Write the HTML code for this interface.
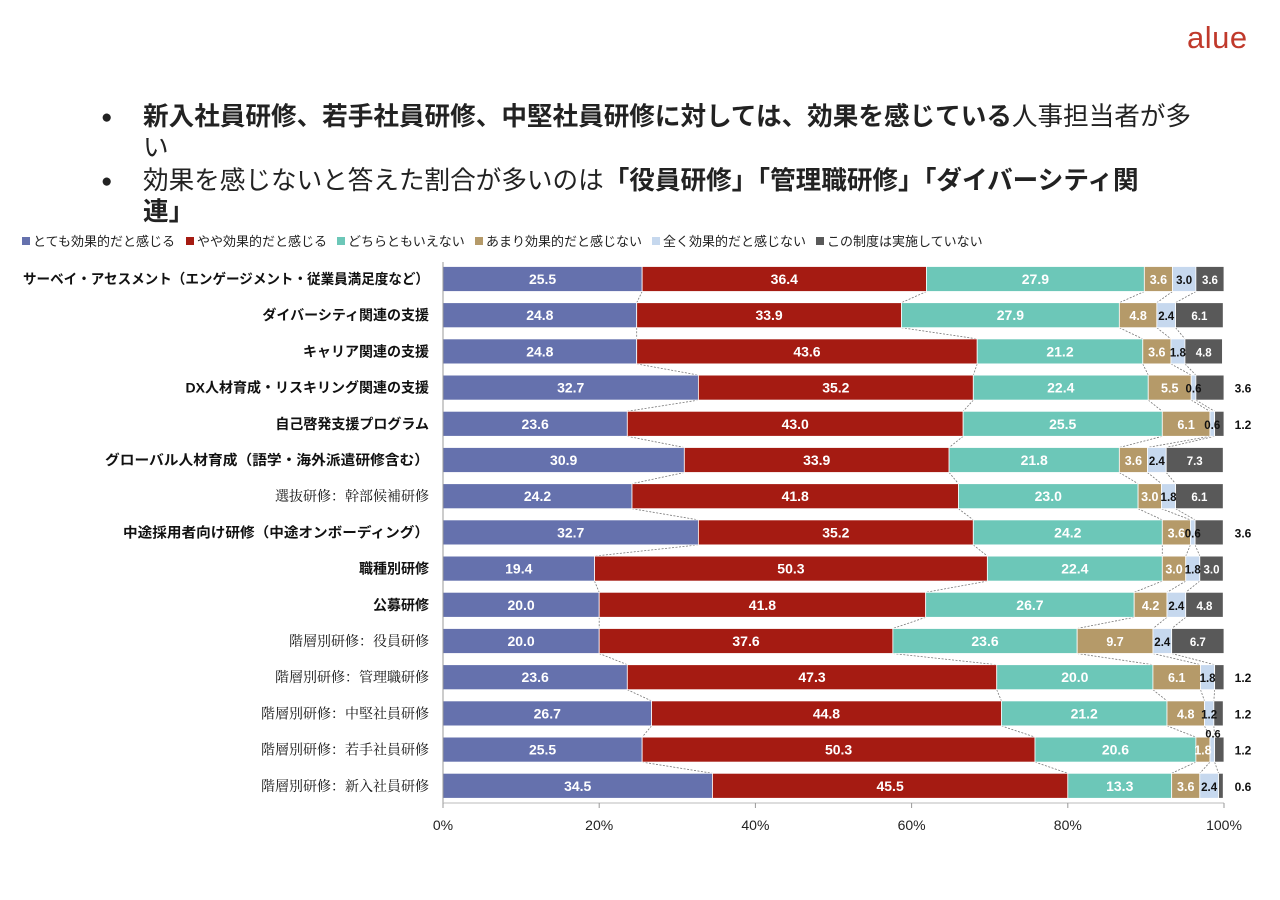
<!DOCTYPE html>
<html><head><meta charset="utf-8">
<style>
body{margin:0;width:1280px;height:900px;background:#fff;overflow:hidden;font-family:"Liberation Sans","Noto Sans CJK JP",sans-serif;position:relative}
.logo{position:absolute;left:1187px;top:20px;font-size:31px;color:#c0392b;letter-spacing:0.5px}
.b{position:absolute;left:101px;font-size:19px;color:#222}
.t{position:absolute;left:143px;width:1100px;font-size:25.6px;line-height:31px;color:#222;white-space:nowrap}
</style></head><body>
<div class="logo">alue</div>
<div class="b" style="top:107px">●</div>
<div class="t" style="top:102px"><b>新入社員研修、若手社員研修、中堅社員研修に対しては、効果を感じている</b>人事担当者が多<br>い</div>
<div class="b" style="top:171px">●</div>
<div class="t" style="top:166px">効果を感じないと答えた割合が多いのは<b>「役員研修」「管理職研修」「ダイバーシティ関<br>連」</b></div>
<svg id="chart" width="1280" height="900" style="position:absolute;left:0;top:0"></svg>
<script>
const categories=["サーベイ・アセスメント（エンゲージメント・従業員満足度など）","ダイバーシティ関連の支援","キャリア関連の支援","DX人材育成・リスキリング関連の支援","自己啓発支援プログラム","グローバル人材育成（語学・海外派遣研修含む）","選抜研修：幹部候補研修","中途採用者向け研修（中途オンボーディング）","職種別研修","公募研修","階層別研修：役員研修","階層別研修：管理職研修","階層別研修：中堅社員研修","階層別研修：若手社員研修","階層別研修：新入社員研修"];
const boldCat=[1,1,1,1,1,1,0,1,1,1,0,0,0,0,0];
const seriesNames=["とても効果的だと感じる","やや効果的だと感じる","どちらともいえない","あまり効果的だと感じない","全く効果的だと感じない","この制度は実施していない"];
const s1=[25.5,24.8,24.8,32.7,23.6,30.9,24.2,32.7,19.4,20.0,20.0,23.6,26.7,25.5,34.5];
const s2=[36.4,33.9,43.6,35.2,43.0,33.9,41.8,35.2,50.3,41.8,37.6,47.3,44.8,50.3,45.5];
const s3=[27.9,27.9,21.2,22.4,25.5,21.8,23.0,24.2,22.4,26.7,23.6,20.0,21.2,20.6,13.3];
const s4=[3.6,4.8,3.6,5.5,6.1,3.6,3.0,3.6,3.0,4.2,9.7,6.1,4.8,1.8,3.6];
const s5=[3.0,2.4,1.8,0.6,0.6,2.4,1.8,0.6,1.8,2.4,2.4,1.8,1.2,0.6,2.4];
const s6=[3.6,6.1,4.8,3.6,1.2,7.3,6.1,3.6,3.0,4.8,6.7,1.2,1.2,1.2,0.6];
const ticks=[0,20,40,60,80,100];
const series=[s1,s2,s3,s4,s5,s6];
const colors=["#6571ad","#a51b12","#6cc7b8","#b59a69","#c6d8ee","#595959"];
const txtCol=["#fff","#fff","#fff","#fff","#111","#fff"];
const X0=443,X1=1224,Y0=279,DY=36.2,BH=25;
const xs=v=>X0+(X1-X0)*v/100;
const ys=i=>Y0+i*DY;
const svg=document.getElementById('chart');
const NS="http://www.w3.org/2000/svg";
function mk(t,a,p){const e=document.createElementNS(NS,t);for(const k in a)e.setAttribute(k,a[k]);(p||svg).appendChild(e);return e;}
let lx=22;
seriesNames.forEach((n,k)=>{
 const r=mk('rect',{x:lx,y:237,width:8,height:8,fill:colors[k]});
 
 
 const t=mk('text',{x:lx+11,y:246,'font-size':13,fill:'#222'});t.textContent=n;
 
 
 lx+=11+n.length*13+10;
});
const cum=categories.map((c,i)=>{let a=[0];series.forEach(s=>a.push(a[a.length-1]+s[i]));return a;});
for(let i=0;i<categories.length-1;i++){for(let k=1;k<6;k++){
 const l=mk('line',{x1:xs(cum[i][k]),y1:ys(i)+BH/2,x2:xs(cum[i+1][k]),y2:ys(i+1)-BH/2,stroke:'#777','stroke-width':0.8,'stroke-dasharray':'2,1.5'});
 
 
}}
categories.forEach((c,i)=>{
 const y=ys(i);
 const attrs={x:429,y:y+5,'text-anchor':'end','font-size':14,'font-weight':boldCat[i]?'bold':'normal',fill:'#111','font-family':boldCat[i]?'"Liberation Sans","Noto Sans CJK JP",sans-serif':'"Liberation Serif","Noto Serif CJK SC",serif'};
 if(i==0){attrs.textLength=406;attrs.lengthAdjust='spacingAndGlyphs';}
 if(i==5){attrs.textLength=324;attrs.lengthAdjust='spacingAndGlyphs';}
 if(i==7){attrs.textLength=306;attrs.lengthAdjust='spacingAndGlyphs';}
 const t=mk('text',attrs);
 t.textContent=c;
 
 
 series.forEach((s,k)=>{
  const xa=xs(cum[i][k]),xb=xs(cum[i][k+1]);
  const r=mk('rect',{x:xa,y:y-BH/2,width:xb-xa,height:BH,fill:colors[k],stroke:'#fff','stroke-width':0.8});
  
  
 });
 series.forEach((s,k)=>{
  const xa=xs(cum[i][k]),xb=xs(cum[i][k+1]);
  const v=s[i];let tx,ty=y+5,col=txtCol[k],fs=k<3?14:(k==3?12.5:11.5);
  if(k==5&&v<=3.6&&(i==3||i==4||i==7||i>=11)){tx=1243;col='#111';fs=12;}
  else if(k==4&&v<=0.6&&i==13){tx=1213;ty=y-12;col='#111';fs=11;}
  else tx=(xa+xb)/2;
  const lt=mk('text',{x:tx,y:ty,'text-anchor':'middle','font-size':fs,'font-weight':'bold',fill:col});
  lt.textContent=v.toFixed(1);
  
  
 });
});
mk('line',{x1:X0,y1:262,x2:X0,y2:803,stroke:'#999','stroke-width':1});
mk('line',{x1:X0,y1:803,x2:X1,y2:803,stroke:'#bbb','stroke-width':1});
ticks.forEach(v=>{
 mk('line',{x1:xs(v),y1:803,x2:xs(v),y2:808,stroke:'#999'});
 const t=mk('text',{x:xs(v),y:830,'text-anchor':'middle','font-size':14,fill:'#222'});t.textContent=v+'%';
 
 
});
</script>
</body></html>
